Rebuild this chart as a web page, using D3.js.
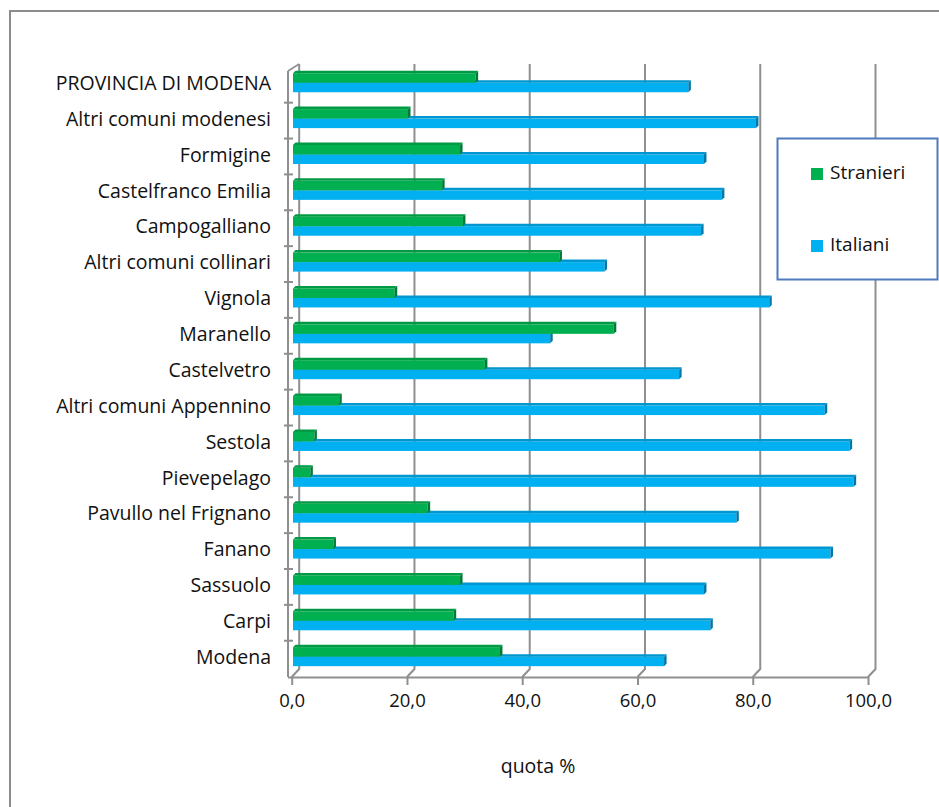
<!DOCTYPE html>
<html>
<head>
<meta charset="utf-8">
<script src="https://cdn.jsdelivr.net/npm/d3@7"></script>
<style>
  body { margin: 0; background: #fff; }
  svg { display: block; font-family: "Open Sans", sans-serif; }
</style>
</head>
<body>
<svg id="chart" width="939" height="807"></svg>
<script>
// categories, top to bottom as in the picture
const categories = [
    "PROVINCIA DI MODENA", "Altri comuni modenesi", "Formigine", "Castelfranco Emilia",
    "Campogalliano", "Altri comuni collinari", "Vignola", "Maranello", "Castelvetro",
    "Altri comuni Appennino", "Sestola", "Pievepelago", "Pavullo nel Frignano",
    "Fanano", "Sassuolo", "Carpi", "Modena"
];
const stranieri = [31.6, 19.9, 28.9, 25.8, 29.4, 46.1, 17.6, 55.5, 33.2, 8.0, 3.7, 3.0, 23.3, 7.0, 28.9, 27.8, 35.8];
const italiani  = [68.4, 80.1, 71.1, 74.2, 70.6, 53.9, 82.4, 44.5, 66.8, 92.0, 96.3, 97.0, 76.7, 93.0, 71.1, 72.2, 64.2];
const xTicks = [0, 20, 40, 60, 80, 100];
const seriesNames = ["Stranieri", "Italiani"];

const colors = {
    Stranieri: { front: "#00b050", top: "#009a45", side: "#007a36" },
    Italiani:  { front: "#00b0f0", top: "#0096cf", side: "#0077a6" }
};
const fontSize = 19.5;

const svg = d3.select("#chart");
const itLocale = d3.formatLocale({ decimal: ",", thousands: ".", grouping: [3], currency: ["€", ""] });
const fmt = itLocale.format(".1f");

// outer frame (only top and left edges show)
svg.append("path")
    .attr("d", "M10,807 L10,11 L939,11")
    .attr("fill", "none").attr("stroke", "#8c8c8c").attr("stroke-width", 2);

const xScale = d3.scaleLinear().domain([0, 100]).range([291.7, 868]);
const xBar = d3.scaleLinear().domain([0, 100]).range([293, 871]);
const yScale = d3.scaleBand().domain(categories).range([64.8, 674.6]);
const depth = { dx: 7.5, dy: 8 };
const floorY = 677, topY = 64;

// back wall gridlines with floor bend
svg.append("g").selectAll("path").data(xTicks).join("path")
    .attr("d", d => {
        const xb = xScale(d) + depth.dx;
        return `M${xb},${topY} L${xb},${floorY - depth.dy} L${xScale(d)},${floorY}`;
    })
    .attr("fill", "none").attr("stroke", "#8f8f8f").attr("stroke-width", 2);

// left wall edge
svg.append("path")
    .attr("d", `M288,${topY + 7} L${xScale(0) + depth.dx},${topY}`)
    .attr("fill", "none").attr("stroke", "#8f8f8f").attr("stroke-width", 1.5);

// bars
const barH = 9.5, bd = 2.5;
function drawBar(g, x0, x1, y, h, c) {
    g.append("rect").attr("x", x0).attr("y", y).attr("width", x1 - x0).attr("height", h).attr("fill", c.front);
    g.append("path")
        .attr("d", `M${x0},${y} L${x0 + bd},${y - bd} L${x1 + bd},${y - bd} L${x1},${y} Z`)
        .attr("fill", c.top);
    g.append("path")
        .attr("d", `M${x1},${y} L${x1 + bd},${y - bd} L${x1 + bd},${y + h - bd} L${x1},${y + h} Z`)
        .attr("fill", c.side);
}

const bars = svg.append("g");
categories.forEach((cat, i) => {
    const c = yScale(cat) + yScale.bandwidth() / 2;
    const g = bars.append("g");
    drawBar(g, xBar(0), xBar(italiani[i]), c, barH, colors.Italiani);
    drawBar(g, xBar(0), xBar(stranieri[i]), c - barH, barH, colors.Stranieri);
});

// category axis
const yAxis = svg.append("g");
yAxis.append("line")
    .attr("x1", 288).attr("x2", 288).attr("y1", topY + 7).attr("y2", floorY)
    .attr("stroke", "#8f8f8f").attr("stroke-width", 2);
const bounds = categories.slice(1).map(cat => yScale(cat));
yAxis.selectAll(".tk").data(bounds).join("line")
    .attr("x1", 284).attr("x2", 293).attr("y1", d => d + 2).attr("y2", d => d + 2)
    .attr("stroke", "#8f8f8f").attr("stroke-width", 2);
yAxis.selectAll("text").data(categories).join("text")
    .attr("x", 271)
    .attr("y", d => yScale(d) + yScale.bandwidth() / 2 + 2)
    .attr("text-anchor", "end")
    .attr("dominant-baseline", "middle")
    .attr("font-size", fontSize)
    .attr("fill", "#111")
    .text(d => d);

// value axis
const xAxis = svg.append("g").attr("transform", `translate(0,${floorY})`)
    .call(d3.axisBottom(xScale).tickValues(xTicks).tickSize(8).tickSizeOuter(0).tickFormat(fmt));
xAxis.select(".domain").attr("stroke", "#8f8f8f").attr("stroke-width", 2).attr("d", `M288,0.5H${xScale(100)}`);
xAxis.selectAll(".tick line").attr("stroke", "#8f8f8f").attr("stroke-width", 2);
xAxis.selectAll(".tick text")
    .attr("font-family", "'Open Sans', sans-serif").attr("font-size", 18.5).attr("fill", "#111").attr("dy", "1em")
    .attr("y", 11);

svg.append("text")
    .attr("x", 538).attr("y", 773)
    .attr("text-anchor", "middle")
    .attr("font-size", fontSize)
    .attr("fill", "#111")
    .text("quota %");

// legend
const legend = svg.append("g");
legend.append("rect")
    .attr("x", 777.5).attr("y", 138.5).attr("width", 160).attr("height", 141)
    .attr("fill", "#fff").attr("stroke", "#4f7bbd").attr("stroke-width", 2);
seriesNames.forEach((name, i) => {
    const cy = 174 + i * 72;
    legend.append("rect")
        .attr("x", 811).attr("y", cy - 6).attr("width", 12).attr("height", 12)
        .attr("fill", colors[name].front);
    legend.append("text")
        .attr("x", 830).attr("y", cy)
        .attr("dominant-baseline", "middle")
        .attr("font-size", 19)
        .attr("fill", "#111")
        .text(name);
});
</script>
</body>
</html>
